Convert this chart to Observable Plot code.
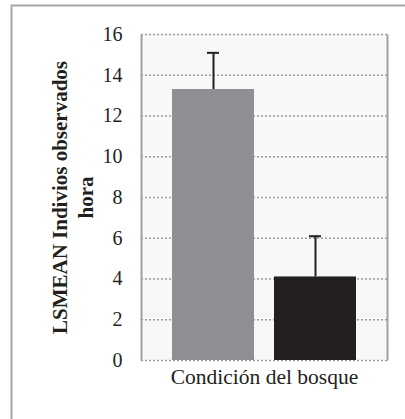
<!DOCTYPE html>
<html><head><meta charset="utf-8">
<script src="https://cdn.jsdelivr.net/npm/d3@7"></script>
<script src="https://cdn.jsdelivr.net/npm/@observablehq/plot@0.6"></script>
<style>
html,body{margin:0;padding:0;background:#fff;overflow:hidden}
#chart svg, #chart svg text, #chart svg g { font-family: "Liberation Serif", "Times New Roman", serif !important; }
</style>
</head><body><div id="chart"></div>
<script>
// Data
const condiciones = ["Condición 1", "Condición 2"];
const lsmean = [13.3, 4.1];
const errorEstandar = [1.8, 2.0];
const yTicks = [0, 2, 4, 6, 8, 10, 12, 14, 16];
const xLabel = "Condición del bosque";
const yLabel1 = "LSMEAN Indivios observados";
const yLabel2 = "hora";
const colores = ["#8f8f93", "#231f20"];

const data = condiciones.map((c, i) => ({c, v: lsmean[i], top: lsmean[i] + errorEstandar[i]}));

const W = 405, H = 419, mL = 141, mR = 18, mT = 34, mB = 59;
const fw = W - mL - mR, fh = H - mT - mB;
const font = "Liberation Serif";

const plot = Plot.plot({
  width: W, height: H,
  marginLeft: mL, marginRight: mR, marginTop: mT, marginBottom: mB,
  style: {fontFamily: font, fontSize: "20px", color: "#231f20", background: "#fff", overflow: "hidden"},
  x: {domain: condiciones, paddingInner: 0.195, paddingOuter: 0.2975, axis: null},
  y: {domain: [0, 16], ticks: yTicks, axis: null},
  color: {domain: condiciones, range: colores},
  marks: [
    Plot.frame({fill: "url(#chk)", stroke: "none"}),
    Plot.frame({stroke: "#a6a6a6", strokeWidth: 2, insetLeft: -130, insetTop: -29, insetRight: -30, insetBottom: -70}),
    Plot.ruleY(yTicks, {stroke: "#9c9c9c", strokeWidth: 1.5, strokeDasharray: "2,2"}),
    Plot.frame({stroke: "#a0a0a0", strokeWidth: 2, strokeDasharray: `0,${fw},${fh},${fw},${fh}`}),
    Plot.barY(data, {x: "c", y: "v", fill: "c"}),
    Plot.ruleX(data, {x: "c", y1: "v", y2: "top", stroke: "#231f20", strokeWidth: 2}),
    Plot.tickY(data, {x: "c", y: "top", stroke: "#231f20", strokeWidth: 2, insetLeft: 35, insetRight: 35}),
    Plot.axisY({ticks: yTicks, tickSize: 0, tickPadding: 19, fontSize: 20, fontFamily: font, fill: "#231f20"}),
    Plot.text([xLabel], {frameAnchor: "bottom", lineAnchor: "bottom", dy: 23, fontSize: 21.5, fontFamily: font, fill: "#231f20"}),
    Plot.text([yLabel1], {frameAnchor: "left", rotate: -90, dx: -75, lineAnchor: "bottom", textAnchor: "middle", fontWeight: "bold", fontSize: 21, fontFamily: font, fill: "#231f20"}),
    Plot.text([yLabel2], {frameAnchor: "left", rotate: -90, dx: -49, lineAnchor: "bottom", textAnchor: "middle", fontWeight: "bold", fontSize: 21, fontFamily: font, fill: "#231f20"})
  ]
});

const ns = "http://www.w3.org/2000/svg";
const defs = document.createElementNS(ns, "defs");
defs.innerHTML = `<pattern id="chk" width="4" height="4" patternUnits="userSpaceOnUse"><rect width="4" height="4" fill="#ffffff"/><rect width="2" height="2" fill="#f0f0f0"/><rect x="2" y="2" width="2" height="2" fill="#f0f0f0"/></pattern>`;
plot.prepend(defs);
document.getElementById("chart").appendChild(plot);
</script>
</body></html>
